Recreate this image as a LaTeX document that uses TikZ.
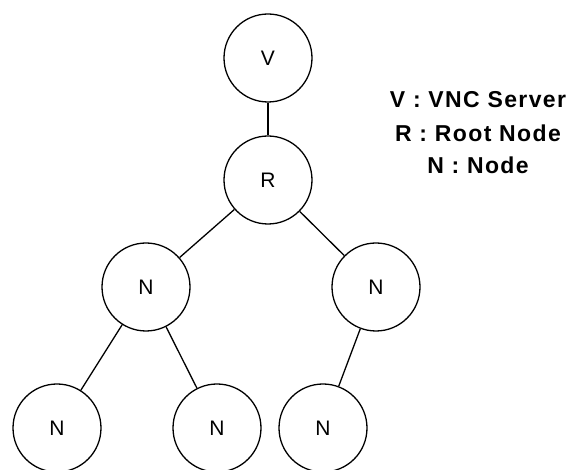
\documentclass[tikz,border=0pt]{standalone}
\usepackage{fontspec}
\setmainfont{Liberation Sans}
\begin{document}
\begin{tikzpicture}[x=1pt,y=-1pt,
  tnode/.style={draw,line width=1.3pt,circle,minimum size=88pt,inner sep=0pt,font=\fontsize{21}{25}\selectfont},
  edge/.style={line width=1.3pt},
  legend/.style={font=\bfseries\fontsize{23}{27}\selectfont\addfontfeatures{LetterSpace=6},anchor=center,inner sep=0pt}]
\useasboundingbox (0,0) rectangle (574,470);
\node[tnode] (v) at (268,58) {V};
\node[tnode] (r) at (268,180) {R};
\node[tnode] (nl) at (146,287) {N};
\node[tnode] (nr) at (376,287) {N};
\node[tnode] (bl) at (57,428) {N};
\node[tnode] (bm) at (217,428) {N};
\node[tnode] (br) at (323,428) {N};
\draw[edge] (v) -- (r);
\draw[edge] (r) -- (nl);
\draw[edge] (r) -- (nr);
\draw[edge] (nl) -- (bl);
\draw[edge] (nl) -- (bm);
\draw[edge] (nr) -- (br);
\node[legend] (l1) at (478,100) {V : VNC Server};
\node[legend] (l2) at (478,133) {R : Root Node};
\node[legend] (l3) at (478,165) {N : Node};
\end{tikzpicture}
\end{document}
